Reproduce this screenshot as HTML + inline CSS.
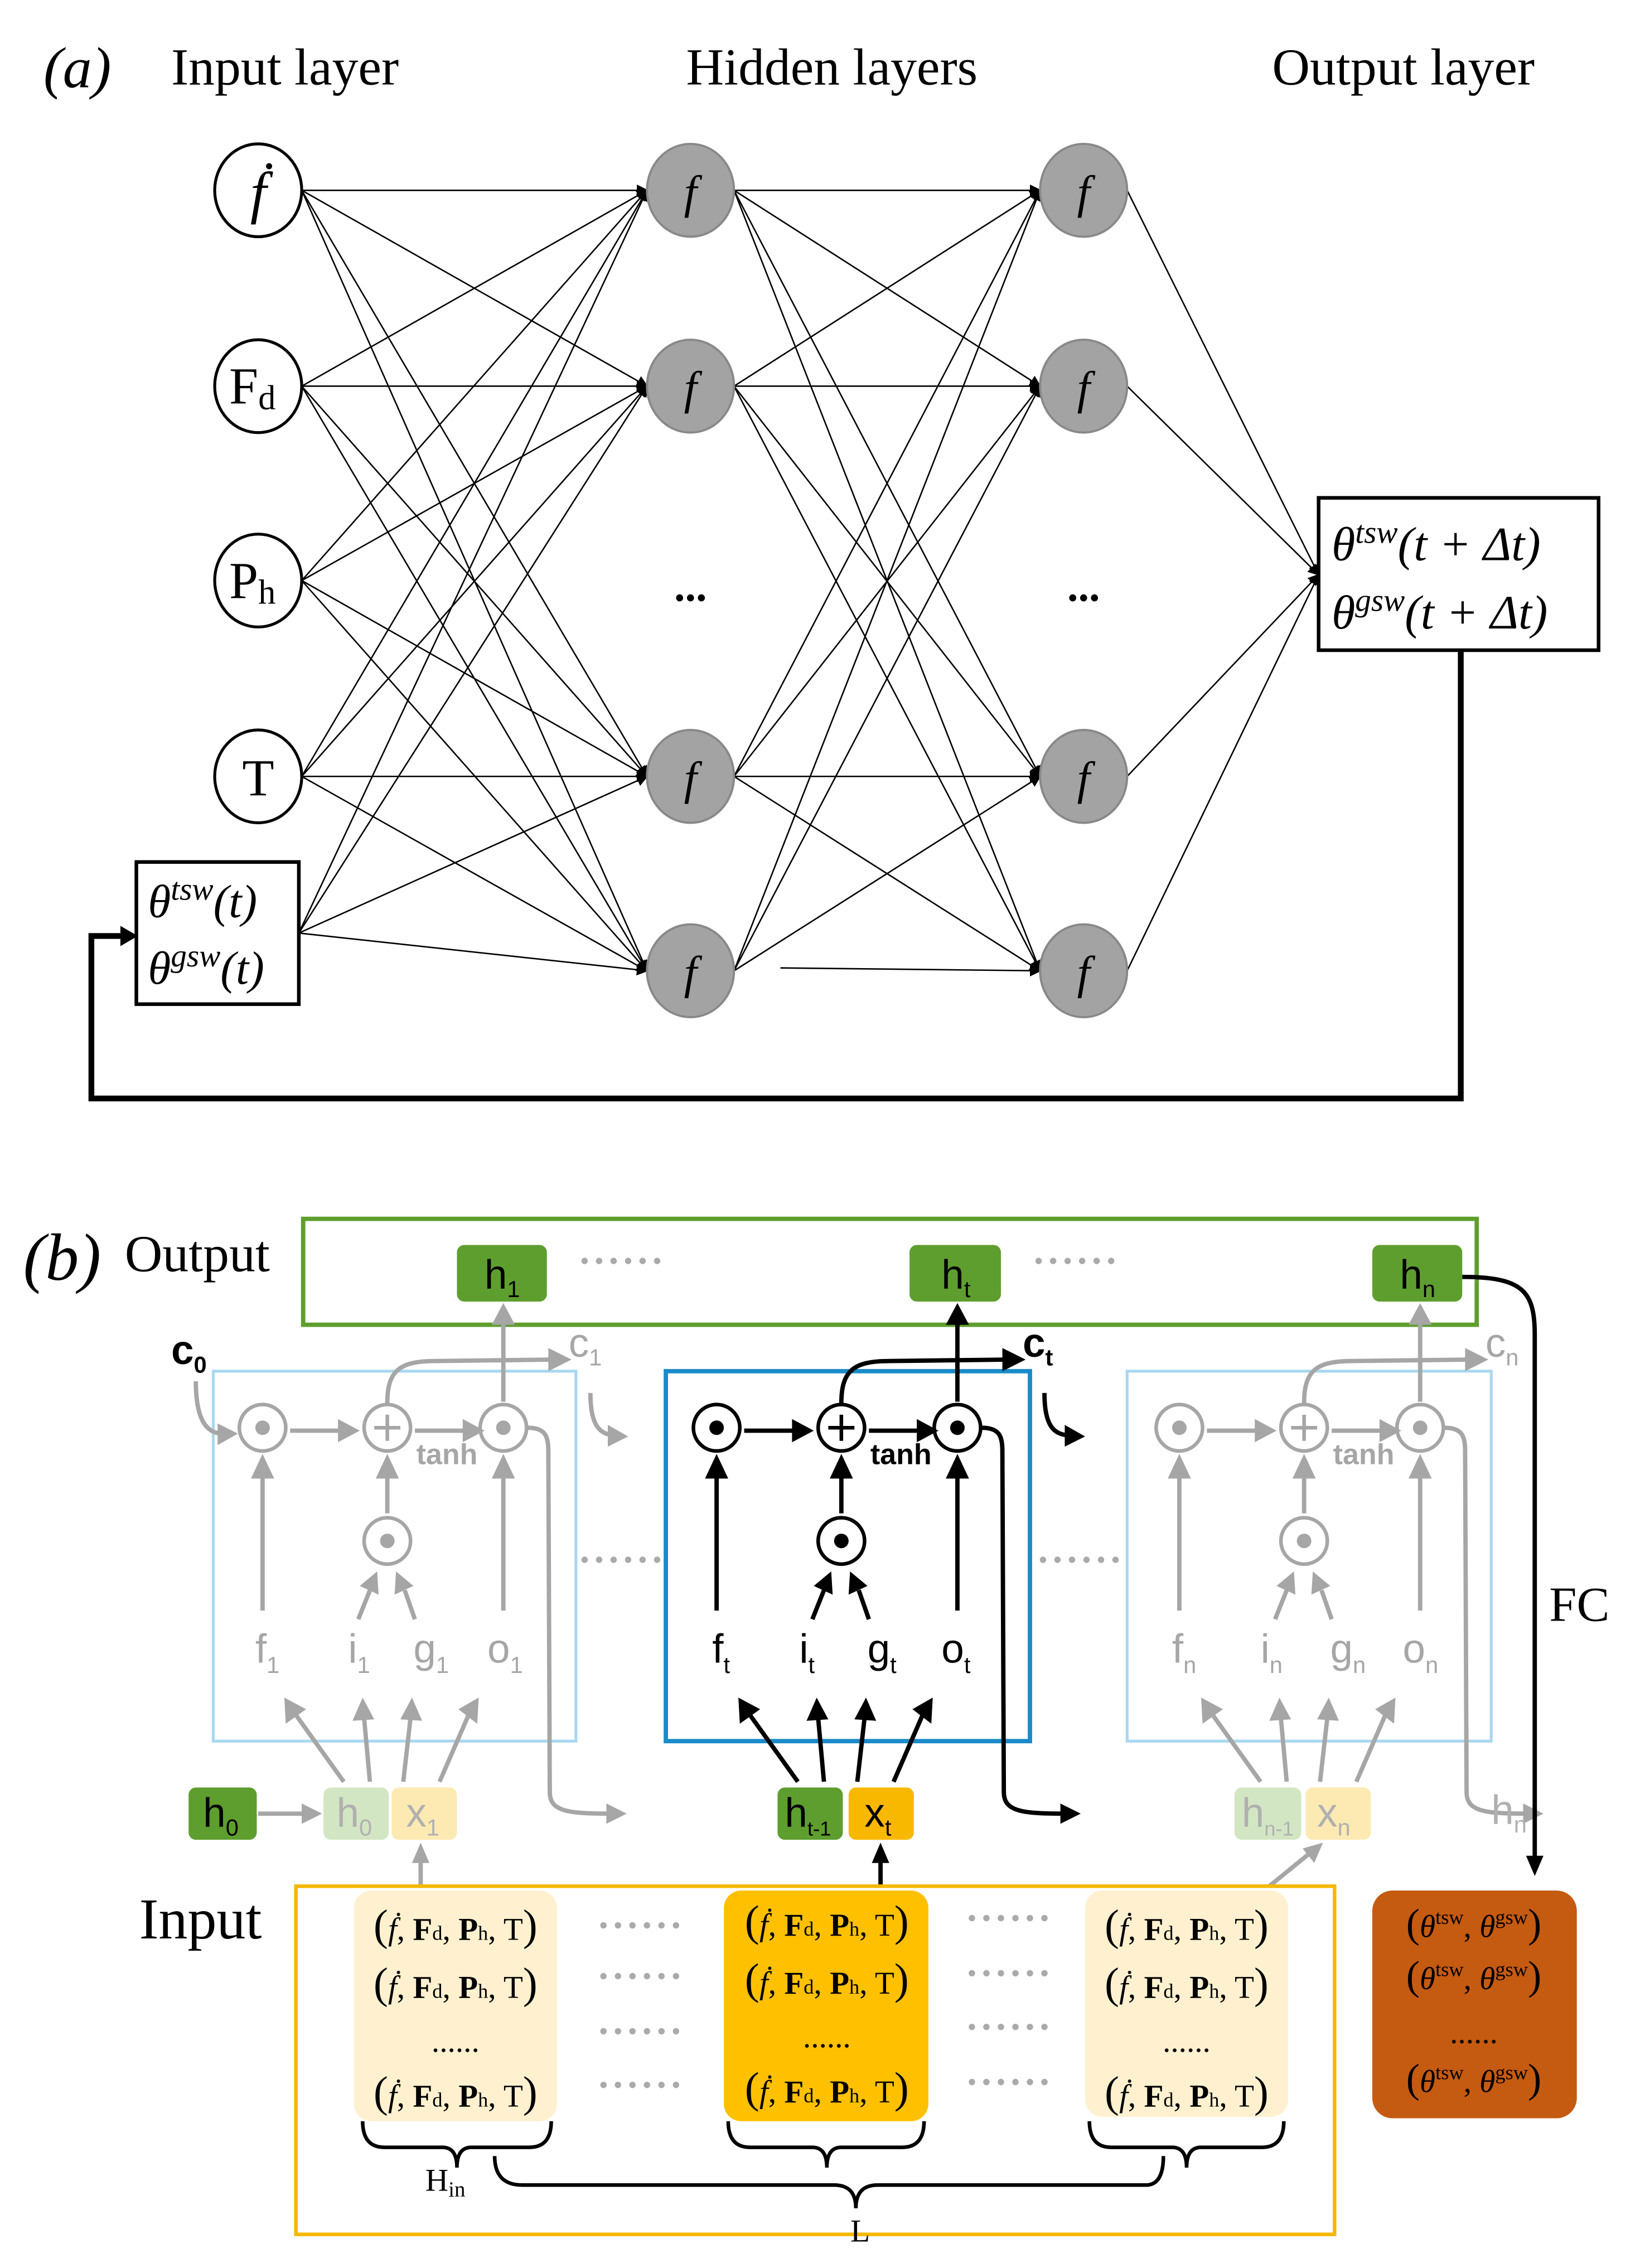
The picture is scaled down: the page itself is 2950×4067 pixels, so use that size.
<!DOCTYPE html>
<html><head><meta charset="utf-8"><style>html,body{margin:0;padding:0;background:#fff}svg{display:block}</style></head>
<body>
<svg width="2950" height="4067" viewBox="0 0 1134 1563" xmlns="http://www.w3.org/2000/svg">
<defs>
<marker id="ah" markerWidth="8" markerHeight="8" refX="7" refY="4" orient="auto" markerUnits="userSpaceOnUse"><path d="M0,0 L8,4 L0,8 z" fill="#000"/></marker>
<g id="cell">
 <g fill="none" stroke="currentColor" stroke-width="2.5">
  <circle cx="181" cy="984" r="16"/><circle cx="267" cy="984" r="16"/><circle cx="347" cy="984" r="16"/><circle cx="267" cy="1062" r="16"/>
  <path d="M258,984 H276 M267,975 V993"/>
 </g>
 <g fill="currentColor"><circle cx="181" cy="984" r="5"/><circle cx="347" cy="984" r="5"/><circle cx="267" cy="1062" r="5"/></g>
 <g fill="none" stroke="currentColor" stroke-width="3">
  <path d="M200,986 H236 M286,986 H322 M181,1110 V1015 M347,1110 V1015 M267,1043 V1015 M247,1116 L255,1096 M286,1116 L279,1096"/>
  <path d="M237,1228 L204,1182 M255,1228 L251,1184 M278,1228 L283,1184 M303,1228 L323,1182"/>
  <path d="M267,967 C267,945 275,938 300,938 L382,937"/>
  <path d="M347,966 V910"/>
  <path d="M364,984 C376,984 378,990 378,1000 L379,1235 C379,1248 390,1250 420,1250"/>
 </g>
 <g fill="currentColor">
  <polygon points="248,986 233,978 233,994"/><polygon points="334,986 319,978 319,994"/>
  <polygon points="181,1002 173,1019 189,1019"/><polygon points="347,1002 339,1019 355,1019"/><polygon points="267,1002 259,1019 275,1019"/>
  <polygon points="260,1083 261,1099 248,1093"/><polygon points="273,1083 285,1093 272,1099"/>
  <polygon points="196,1170 197,1188 211,1178"/><polygon points="250,1170 243,1186 258,1185"/><polygon points="284,1170 276,1185 291,1186"/><polygon points="330,1170 316,1178 329,1188"/>
  <polygon points="394,937 378,929 378,945"/><polygon points="347,898 339,913 355,913"/><polygon points="432,1250 418,1243 418,1257"/>
 </g>
</g>
</defs>

<g font-family="Liberation Serif, serif" fill="#000">
 <text x="30" y="60" font-size="40" font-style="italic">(a)</text>
 <text x="118" y="58" font-size="36">Input layer</text>
 <text x="473" y="58" font-size="36">Hidden layers</text>
 <text x="877" y="58" font-size="36">Output layer</text>
</g>

<g stroke="#000" stroke-width="1" fill="none" marker-end="url(#ah)">
 <path d="M208,131 L446,131"/><path d="M208,131 L446,266"/><path d="M208,131 L446,535"/><path d="M208,131 L446,669"/>
 <path d="M208,266 L446,131"/><path d="M208,266 L446,266"/><path d="M208,266 L446,535"/><path d="M208,266 L446,669"/>
 <path d="M208,400 L446,131"/><path d="M208,400 L446,266"/><path d="M208,400 L446,535"/><path d="M208,400 L446,669"/>
 <path d="M208,535 L446,131"/><path d="M208,535 L446,266"/><path d="M208,535 L446,535"/><path d="M208,535 L446,669"/>
 <path d="M206,643 L446,131"/><path d="M206,643 L446,266"/><path d="M206,643 L446,535"/><path d="M206,643 L446,669"/>
 <path d="M506,131 L717,131"/><path d="M506,131 L717,266"/><path d="M506,131 L717,535"/><path d="M506,131 L717,669"/>
 <path d="M506,266 L717,131"/><path d="M506,266 L717,266"/><path d="M506,266 L717,535"/><path d="M506,266 L717,669"/>
 <path d="M506,535 L717,131"/><path d="M506,535 L717,266"/><path d="M506,535 L717,535"/><path d="M506,535 L717,669"/>
 <path d="M506,669 L717,131"/><path d="M506,669 L717,266"/><path d="M506,669 L717,535"/><path d="M538,667 L717,669"/>
 <path d="M777,131 L909,396"/><path d="M777,266 L909,396"/><path d="M777,535 L909,396"/><path d="M777,669 L909,396"/>
</g>

<g stroke="#000" stroke-width="2" fill="#fff">
 <ellipse cx="178" cy="131" rx="30" ry="32"/><ellipse cx="178" cy="266" rx="30" ry="32"/>
 <ellipse cx="178" cy="400" rx="30" ry="32"/><ellipse cx="178" cy="535" rx="30" ry="32"/>
 <rect x="94" y="594" width="112" height="98" stroke-width="2.5"/>
 <rect x="909" y="343" width="193" height="105" stroke-width="2.5"/>
</g>
<g stroke="#888" stroke-width="1.5" fill="#a3a3a3">
 <ellipse cx="476" cy="131" rx="30" ry="32"/><ellipse cx="476" cy="266" rx="30" ry="32"/>
 <ellipse cx="476" cy="535" rx="30" ry="32"/><ellipse cx="476" cy="669" rx="30" ry="32"/>
 <ellipse cx="747" cy="131" rx="30" ry="32"/><ellipse cx="747" cy="266" rx="30" ry="32"/>
 <ellipse cx="747" cy="535" rx="30" ry="32"/><ellipse cx="747" cy="669" rx="30" ry="32"/>
</g>
<g font-family="Liberation Serif, serif" fill="#000">
 <text x="178" y="146" font-size="40" font-style="italic" text-anchor="middle">ḟ</text>
 <text x="158" y="278" font-size="36">F<tspan font-size="24" dy="4">d</tspan></text>
 <text x="158" y="412" font-size="36">P<tspan font-size="24" dy="4">h</tspan></text>
 <text x="178" y="548" font-size="36" text-anchor="middle">T</text>
 <g font-size="32" font-style="italic" text-anchor="middle">
  <text x="476" y="143">f</text><text x="476" y="278">f</text><text x="476" y="547">f</text><text x="476" y="681">f</text>
  <text x="747" y="143">f</text><text x="747" y="278">f</text><text x="747" y="547">f</text><text x="747" y="681">f</text>
 </g>
 <text x="476" y="414" font-size="30" text-anchor="middle" font-weight="bold">...</text>
 <text x="747" y="414" font-size="30" text-anchor="middle" font-weight="bold">...</text>
 <text x="102" y="632" font-size="32" font-style="italic">θ<tspan font-size="22" dy="-12">tsw</tspan><tspan dy="12">(t)</tspan></text>
 <text x="102" y="678" font-size="32" font-style="italic">θ<tspan font-size="22" dy="-12">gsw</tspan><tspan dy="12">(t)</tspan></text>
 <text x="918" y="386" font-size="33" font-style="italic">θ<tspan font-size="22" dy="-12">tsw</tspan><tspan dy="12">(t + Δt)</tspan></text>
 <text x="918" y="433" font-size="33" font-style="italic">θ<tspan font-size="22" dy="-12">gsw</tspan><tspan dy="12">(t + Δt)</tspan></text>
</g>
<path d="M1007,448 V757 H63 V645 H84" stroke="#000" stroke-width="4" fill="none"/>
<polygon points="95,645 83,638 83,652" fill="#000"/>

<g font-family="Liberation Serif, serif" fill="#000">
 <text x="16" y="882" font-size="46" font-style="italic">(b)</text>
 <text x="86" y="876" font-size="36">Output</text>
 <text x="96" y="1336" font-size="40">Input</text>
 <text x="1068" y="1117" font-size="34">FC</text>
</g>
<rect x="209" y="840" width="809" height="73" fill="none" stroke="#5e9e2f" stroke-width="3"/>

<rect x="147" y="945" width="250" height="255" fill="none" stroke="#a9d8f0" stroke-width="2"/>
<rect x="459" y="945" width="251" height="255" fill="none" stroke="#1a8bc8" stroke-width="3"/>
<rect x="777" y="945" width="251" height="255" fill="none" stroke="#a9d8f0" stroke-width="2"/>

<use href="#cell" style="color:#a6a6a6"/>
<use href="#cell" transform="translate(313,0)" style="color:#000"/>
<use href="#cell" transform="translate(632,0)" style="color:#a6a6a6"/>

<g fill="none" stroke-width="3">
 <path d="M407,960 C407,980 412,988 422,989" stroke="#a6a6a6"/>
 <path d="M720,960 C720,980 725,988 735,989" stroke="#000"/>
 <path d="M135,952 C135,978 142,987 152,988" stroke="#a6a6a6"/>
 <path d="M178,1250 H210" stroke="#a6a6a6"/>
 <path d="M290,1300 V1282" stroke="#a6a6a6"/>
 <path d="M607,1300 V1282" stroke="#000"/>
 <path d="M875,1300 L902,1278" stroke="#a6a6a6"/>
 <path d="M1008,880 C1050,880 1058,890 1058,920 V1280" stroke="#000"/>
</g>
<g>
 <polygon points="433,990 419,982 419,997" fill="#a6a6a6"/>
 <polygon points="748,990 734,982 734,997" fill="#000"/>
 <polygon points="164,988 150,981 150,996" fill="#a6a6a6"/>
 <polygon points="222,1250 208,1243 208,1257" fill="#a6a6a6"/>
 <polygon points="290,1270 284,1284 296,1284" fill="#a6a6a6"/>
 <polygon points="607,1270 601,1284 613,1284" fill="#000"/>
 <polygon points="912,1270 898,1274 906,1284" fill="#a6a6a6"/>
 <polygon points="1058,1293 1052,1279 1064,1279" fill="#000"/>
</g>

<g fill="#aaa">
 <g id="dl"><circle cx="403" cy="869" r="2.2"/><circle cx="413" cy="869" r="2.2"/><circle cx="423" cy="869" r="2.2"/><circle cx="433" cy="869" r="2.2"/><circle cx="443" cy="869" r="2.2"/><circle cx="453" cy="869" r="2.2"/></g>
 <use href="#dl" transform="translate(313,0)"/>
 <use href="#dl" transform="translate(0,206)"/>
 <use href="#dl" transform="translate(316,206)"/>
 <use href="#dl" transform="translate(13,458)"/><use href="#dl" transform="translate(13,493)"/><use href="#dl" transform="translate(13,531)"/><use href="#dl" transform="translate(13,568)"/>
 <use href="#dl" transform="translate(267,453)"/><use href="#dl" transform="translate(267,491)"/><use href="#dl" transform="translate(267,528)"/><use href="#dl" transform="translate(267,566)"/>
</g>

<g>
 <rect x="315" y="858" width="62" height="39" rx="5" fill="#5e9e2f"/>
 <rect x="627" y="858" width="63" height="39" rx="5" fill="#5e9e2f"/>
 <rect x="946" y="858" width="62" height="39" rx="5" fill="#5e9e2f"/>
 <rect x="130" y="1232" width="47" height="36" rx="5" fill="#5e9e2f"/>
 <rect x="223" y="1232" width="45" height="36" rx="5" fill="#d3e6c4"/>
 <rect x="270" y="1232" width="45" height="36" rx="5" fill="#fdeab3"/>
 <rect x="536" y="1232" width="45" height="36" rx="5" fill="#5e9e2f"/>
 <rect x="585" y="1232" width="45" height="36" rx="5" fill="#f9b800"/>
 <rect x="851" y="1232" width="46" height="36" rx="5" fill="#d3e6c4"/>
 <rect x="900" y="1232" width="45" height="36" rx="5" fill="#fdeab3"/>
</g>
<g font-family="Liberation Sans, sans-serif" font-size="28">
 <text x="334" y="888">h<tspan font-size="16" dy="6">1</tspan></text>
 <text x="649" y="888">h<tspan font-size="16" dy="6">t</tspan></text>
 <text x="965" y="888">h<tspan font-size="16" dy="6">n</tspan></text>
 <text x="140" y="1259">h<tspan font-size="16" dy="6">0</tspan></text>
 <text x="232" y="1259" fill="#b0b0b0">h<tspan font-size="16" dy="6">0</tspan></text>
 <text x="280" y="1259" fill="#b0b0b0">x<tspan font-size="16" dy="6">1</tspan></text>
 <text x="541" y="1259">h<tspan font-size="14" dy="6">t-1</tspan></text>
 <text x="596" y="1259">x<tspan font-size="16" dy="6">t</tspan></text>
 <text x="856" y="1259" fill="#b0b0b0">h<tspan font-size="14" dy="6">n-1</tspan></text>
 <text x="908" y="1259" fill="#b0b0b0">x<tspan font-size="16" dy="6">n</tspan></text>
 <text x="1028" y="1257" fill="#b0b0b0">h<tspan font-size="16" dy="6">n</tspan></text>

 <text x="118" y="940" font-weight="bold">c<tspan font-size="16" dy="6">0</tspan></text>
 <text x="392" y="935" fill="#a6a6a6">c<tspan font-size="16" dy="6">1</tspan></text>
 <text x="705" y="935" font-weight="bold">c<tspan font-size="16" dy="6">t</tspan></text>
 <text x="1024" y="935" fill="#a6a6a6">c<tspan font-size="16" dy="6">n</tspan></text>

 <g font-size="20" font-weight="bold"><text x="287" y="1009" fill="#a6a6a6">tanh</text><text x="600" y="1009">tanh</text><text x="919" y="1009" fill="#a6a6a6">tanh</text></g>

 <g fill="#a6a6a6">
  <text x="176" y="1146">f<tspan font-size="16" dy="7">1</tspan></text>
  <text x="240" y="1146">i<tspan font-size="16" dy="7">1</tspan></text>
  <text x="285" y="1146">g<tspan font-size="16" dy="7">1</tspan></text>
  <text x="336" y="1146">o<tspan font-size="16" dy="7">1</tspan></text>
  <text x="808" y="1146">f<tspan font-size="16" dy="7">n</tspan></text>
  <text x="869" y="1146">i<tspan font-size="16" dy="7">n</tspan></text>
  <text x="917" y="1146">g<tspan font-size="16" dy="7">n</tspan></text>
  <text x="967" y="1146">o<tspan font-size="16" dy="7">n</tspan></text>
 </g>
 <text x="491" y="1146">f<tspan font-size="16" dy="7">t</tspan></text>
 <text x="551" y="1146">i<tspan font-size="16" dy="7">t</tspan></text>
 <text x="598" y="1146">g<tspan font-size="16" dy="7">t</tspan></text>
 <text x="649" y="1146">o<tspan font-size="16" dy="7">t</tspan></text>
</g>

<rect x="204" y="1300" width="716" height="240" fill="none" stroke="#f5b800" stroke-width="2.5"/>
<rect x="244" y="1303" width="140" height="159" rx="12" fill="#fff1cf"/>
<rect x="499" y="1303" width="141" height="159" rx="12" fill="#ffc000"/>
<rect x="748" y="1303" width="140" height="156" rx="12" fill="#fff1cf"/>
<rect x="946" y="1303" width="141" height="157" rx="14" fill="#c55a11"/>

<g font-family="Liberation Serif, serif" font-size="22" fill="#000" text-anchor="middle">
 <g id="col">
  <text x="314" y="1337"><tspan font-size="30">(</tspan><tspan font-style="italic">ḟ</tspan>, <tspan font-weight="bold">F</tspan><tspan font-size="14">d</tspan>, <tspan font-weight="bold">P</tspan><tspan font-size="14">h</tspan>, T<tspan font-size="30">)</tspan></text>
  <text x="314" y="1377"><tspan font-size="30">(</tspan><tspan font-style="italic">ḟ</tspan>, <tspan font-weight="bold">F</tspan><tspan font-size="14">d</tspan>, <tspan font-weight="bold">P</tspan><tspan font-size="14">h</tspan>, T<tspan font-size="30">)</tspan></text>
  <text x="314" y="1414">......</text>
  <text x="314" y="1452"><tspan font-size="30">(</tspan><tspan font-style="italic">ḟ</tspan>, <tspan font-weight="bold">F</tspan><tspan font-size="14">d</tspan>, <tspan font-weight="bold">P</tspan><tspan font-size="14">h</tspan>, T<tspan font-size="30">)</tspan></text>
 </g>
 <use href="#col" transform="translate(256,-3)"/>
 <use href="#col" transform="translate(504,0)"/>
 <text x="1016" y="1335"><tspan font-size="28">(</tspan><tspan font-style="italic">θ</tspan><tspan font-size="14" dy="-9">tsw</tspan><tspan dy="9">, </tspan><tspan font-style="italic">θ</tspan><tspan font-size="14" dy="-9">gsw</tspan><tspan font-size="28" dy="9">)</tspan></text>
 <text x="1016" y="1371"><tspan font-size="28">(</tspan><tspan font-style="italic">θ</tspan><tspan font-size="14" dy="-9">tsw</tspan><tspan dy="9">, </tspan><tspan font-style="italic">θ</tspan><tspan font-size="14" dy="-9">gsw</tspan><tspan font-size="28" dy="9">)</tspan></text>
 <text x="1016" y="1408">......</text>
 <text x="1016" y="1442"><tspan font-size="28">(</tspan><tspan font-style="italic">θ</tspan><tspan font-size="14" dy="-9">tsw</tspan><tspan dy="9">, </tspan><tspan font-style="italic">θ</tspan><tspan font-size="14" dy="-9">gsw</tspan><tspan font-size="28" dy="9">)</tspan></text>
 <text x="307" y="1510">H<tspan font-size="15" dy="4">in</tspan></text>
 <text x="593" y="1545">L</text>
</g>

<g fill="none" stroke="#000" stroke-width="2.5">
 <path d="M250,1462 Q250,1480 265,1480 L305,1480 Q315,1480 315,1494 Q315,1480 325,1480 L365,1480 Q380,1480 380,1462"/>
 <path d="M502,1462 Q502,1480 517,1480 L560,1480 Q570,1480 570,1494 Q570,1480 580,1480 L622,1480 Q637,1480 637,1462"/>
 <path d="M751,1462 Q751,1480 766,1480 L808,1480 Q818,1480 818,1494 Q818,1480 828,1480 L870,1480 Q885,1480 885,1462"/>
 <path d="M341,1486 Q341,1506 360,1506 L575,1506 Q590,1506 590,1522 Q590,1506 605,1506 L790,1506 Q802,1506 802,1486"/>
</g>
</svg>
</body></html>
